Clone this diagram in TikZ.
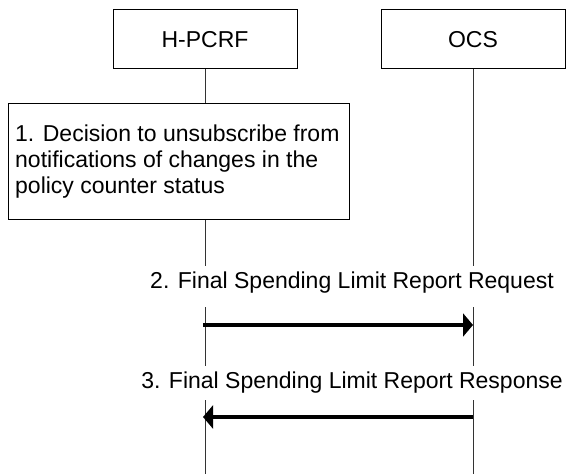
\documentclass[tikz,border=0pt]{standalone}
\usepackage{fontspec}
\setmainfont{Liberation Sans}
\usetikzlibrary{arrows.meta}
\begin{document}
\begin{tikzpicture}[x=1bp,y=-1bp,
  every node/.style={font=\fontsize{23bp}{26bp}\selectfont},
  entity/.style={draw, line width=1bp, minimum width=184bp, minimum height=59bp, inner sep=0pt},
  lifeline/.style={line width=1bp, draw=black!80},
  actionbox/.style={draw, line width=1bp, fill=white, minimum width=340bp, minimum height=116bp, inner sep=0pt},
  actiontext/.style={align=left, inner sep=0pt, anchor=base west},
  msglabel/.style={fill=white, inner xsep=2bp, inner ysep=0pt, anchor=base},
  msgarrow/.style={line width=4.5bp, -{Triangle[length=10bp,width=23bp]}}]
\useasboundingbox (0,0) rectangle (567,474);
\node[entity] (hpcrf) at (205,39.5) {H-PCRF};
\node[entity] (ocs) at (473,39.5) {OCS};
\coordinate (hend) at (205,474);
\coordinate (oend) at (473,474);
\draw[lifeline] (hpcrf) -- (hend);
\draw[lifeline] (ocs) -- (oend);
\node[actionbox] (decision) at (179,162) {};
\node[actiontext] (decisiontext) at (15,194) {1. Decision to unsubscribe from\\notifications of changes in the\\policy counter status};
\node[msglabel, text height=22bp, text depth=19bp] (req) at (352,288) {2. Final Spending Limit Report Request};
\node[msglabel, text height=22bp, text depth=12bp] (resp) at (352,388) {3. Final Spending Limit Report Response};
\coordinate (reqstart) at (203,325);
\coordinate (reqend) at (473,325);
\coordinate (respstart) at (473,417);
\coordinate (respend) at (203,417);
\draw[msgarrow] (reqstart) -- (reqend);
\draw[msgarrow] (respstart) -- (respend);
\end{tikzpicture}
\end{document}
